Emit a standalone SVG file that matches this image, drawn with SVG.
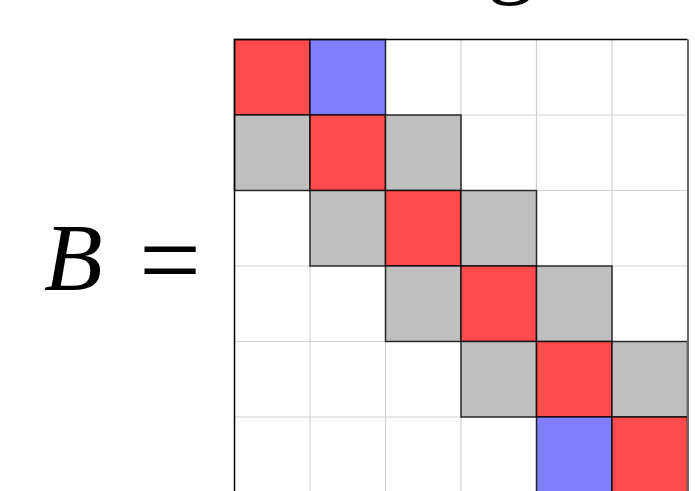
<svg xmlns="http://www.w3.org/2000/svg" width="695" height="491" viewBox="0 0 695 491">
<style>
.grid{stroke:#d2d2d2;stroke-width:1.2;fill:none}
.cell{stroke:#000;stroke-opacity:0.8;stroke-width:1.5}
.r{fill:#ff4b4b}
.b{fill:#8080ff}
.g{fill:#bfbfbf}
.math{font-family:"Liberation Serif","Times New Roman",serif;fill:#000}
</style>
<rect width="695" height="491" fill="#fff"/>
<text class="math" x="487" y="-14" font-size="96">g</text>
<g id="label">
<text class="math" x="44" y="290" font-size="96" font-style="italic">B</text>
<text class="math" x="139" y="297" font-size="110">=</text>
</g>
<g id="grid">
<path class="grid" d="M310 39.5V491M385.5 39.5V491M461 39.5V491M536.5 39.5V491M612 39.5V491M234.5 115H687.5M234.5 190.5H687.5M234.5 266H687.5M234.5 341.5H687.5M234.5 417H687.5"/>
</g>
<g id="cells">
<rect class="cell r" x="234.5" y="39.5" width="75.5" height="75.5"/>
<rect class="cell b" x="310" y="39.5" width="75.5" height="75.5"/>
<rect class="cell g" x="234.5" y="115" width="75.5" height="75.5"/>
<rect class="cell r" x="310" y="115" width="75.5" height="75.5"/>
<rect class="cell g" x="385.5" y="115" width="75.5" height="75.5"/>
<rect class="cell g" x="310" y="190.5" width="75.5" height="75.5"/>
<rect class="cell r" x="385.5" y="190.5" width="75.5" height="75.5"/>
<rect class="cell g" x="461" y="190.5" width="75.5" height="75.5"/>
<rect class="cell g" x="385.5" y="266" width="75.5" height="75.5"/>
<rect class="cell r" x="461" y="266" width="75.5" height="75.5"/>
<rect class="cell g" x="536.5" y="266" width="75.5" height="75.5"/>
<rect class="cell g" x="461" y="341.5" width="75.5" height="75.5"/>
<rect class="cell r" x="536.5" y="341.5" width="75.5" height="75.5"/>
<rect class="cell g" x="612" y="341.5" width="75.5" height="75.5"/>
<rect class="cell b" x="536.5" y="417" width="75.5" height="75.5"/>
<rect class="cell r" x="612" y="417" width="75.5" height="75.5"/>
</g>
<g id="border">
<path d="M234.5 491V39.5H687.5" fill="none" stroke="#000" stroke-width="1.5"/>
<path d="M688 39.5V491" fill="none" stroke="#666" stroke-width="2"/>
</g>
</svg>
